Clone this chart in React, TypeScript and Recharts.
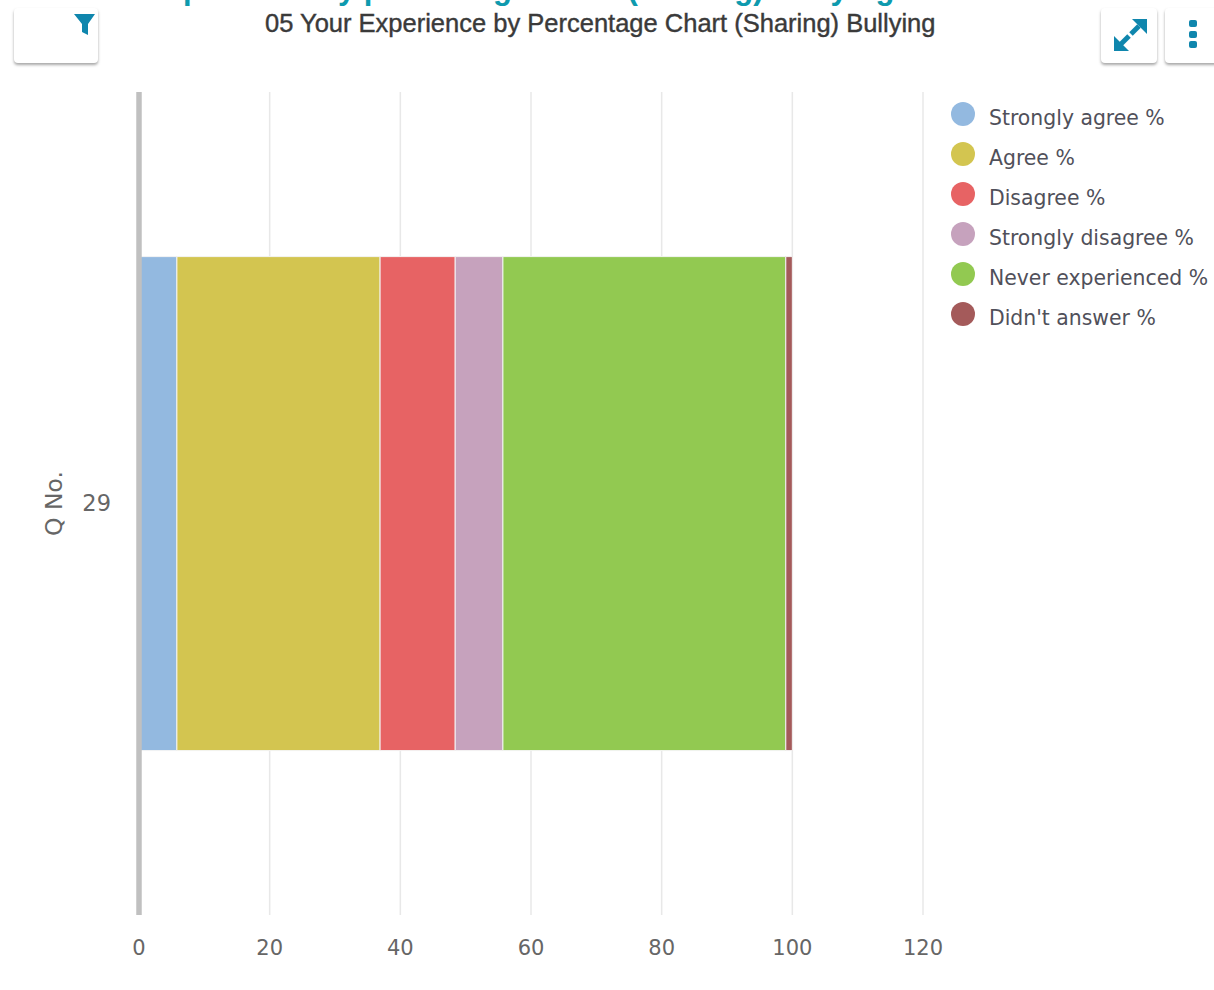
import { BarChart, Bar, XAxis, YAxis, CartesianGrid, Legend } from 'recharts'

const categories = ['29']
const seriesNames = ['Strongly agree %', 'Agree %', 'Disagree %', 'Strongly disagree %', 'Never experienced %', "Didn't answer %"]
const seriesValues = [5.8, 31.1, 11.5, 7.3, 43.3, 1.0]
const seriesColors = ['#93b9e0', '#d3c550', '#e76364', '#c6a2bd', '#92c951', '#a45a5a']
const xTicks = [0, 20, 40, 60, 80, 100, 120]

const data = categories.map((c) => {
  const row: Record<string, string | number> = { name: c }
  seriesNames.forEach((s, i) => {
    row[s] = seriesValues[i]
  })
  return row
})

const font = '"DejaVu Sans", sans-serif'

function LegendList({ payload }: any) {
  return (
    <div>
      {(payload || []).map((p: any) => (
        <div key={p.value} style={{ height: 40, display: 'flex', alignItems: 'center' }}>
          <span style={{ width: 24, height: 24, borderRadius: 12, background: p.color, marginTop: -8 }} />
          <span style={{ marginLeft: 14, fontSize: 20.4, color: '#50505a', fontFamily: font, whiteSpace: 'nowrap' }}>{p.value}</span>
        </div>
      ))}
    </div>
  )
}

function ToolButton({ left, width, children }: any) {
  return (
    <div
      style={{
        position: 'absolute',
        left,
        top: 8,
        width,
        height: 55,
        background: '#fff',
        borderRadius: 4,
        boxShadow: '0 2px 3px rgba(0,0,0,0.35)',
      }}
    >
      {children}
    </div>
  )
}

export default function App() {
  return (
    <div style={{ position: 'absolute', left: 0, top: 0, width: 1214, height: 990, overflow: 'hidden', background: '#fff' }}>
      <div
        style={{
          position: 'absolute',
          left: 145,
          top: -29,
          fontFamily: '"Liberation Sans", sans-serif',
          fontSize: 31,
          fontWeight: 700,
          color: '#0e9aae',
          whiteSpace: 'nowrap',
        }}
      >
        Experience by percentage Chart (Sharing) Bullying
      </div>
      <div
        style={{
          position: 'absolute',
          left: 265,
          top: 9,
          fontFamily: '"Liberation Sans", sans-serif',
          fontSize: 25.5,
          color: '#3a3a3a',
          whiteSpace: 'nowrap',
          WebkitTextStroke: '0.4px #3a3a3a',
        }}
      >
        05 Your Experience by Percentage Chart (Sharing) Bullying
      </div>
      <ToolButton left={14} width={84}>
        <svg width={84} height={30} style={{ position: 'absolute', left: 0, top: 4 }}>
          <polygon points="60,2 81,2 74,12 74,23 68,20 68,12" fill="#0f86ad" />
        </svg>
      </ToolButton>
      <ToolButton left={1101} width={56}>
        <svg width={56} height={55}>
          <g stroke="#0f86ad" strokeWidth={5} fill="#0f86ad">
            <line x1={20} y1={36} x2={28} y2={28} />
            <line x1={30} y1={26} x2={38} y2={18} />
            <polygon points="46,11 46,26 31,11" stroke="none" />
            <polygon points="13,43 13,28 28,43" stroke="none" />
          </g>
        </svg>
      </ToolButton>
      <ToolButton left={1165} width={60}>
        <svg width={56} height={55}>
          <g fill="#0f86ad">
            <rect x={24} y={12} width={8} height={7} rx={2} />
            <rect x={24} y={23} width={8} height={7} rx={2} />
            <rect x={24} y={33} width={8} height={7} rx={2} />
          </g>
        </svg>
      </ToolButton>
      <BarChart
        layout="vertical"
        width={1214}
        height={990}
        data={data}
        margin={{ top: 92, right: 28, left: 79, bottom: 0 }}
        barCategoryGap="20%"
        style={{ position: 'absolute', left: 0, top: 0 }}
      >
        <CartesianGrid horizontal={false} stroke="#e8e8e8" strokeWidth={1.5} />
        <XAxis
          type="number"
          domain={[0, 120]}
          ticks={xTicks}
          height={75}
          axisLine={false}
          tickLine={false}
          tick={{ fontSize: 21, fill: '#666', fontFamily: font }}
          tickMargin={19}
        />
        <YAxis
          type="category"
          dataKey="name"
          width={60}
          axisLine={{ stroke: '#c0c0c0', strokeWidth: 5.5 }}
          tickLine={false}
          tick={{ fontSize: 22.5, fill: '#666', fontFamily: font }}
          tickMargin={22}
          label={{ value: 'Q No.', angle: -90, position: 'insideLeft', offset: -25, fontSize: 23.5, fill: '#666', fontFamily: font, textAnchor: 'middle' }}
        />
        <Legend
          layout="vertical"
          align="right"
          verticalAlign="top"
          itemSorter={null}
          content={LegendList as any}
          wrapperStyle={{ left: 951, top: 98, width: 263 }}
        />
        {seriesNames.map((s, i) => (
          <Bar key={s} dataKey={s} stackId="a" fill={seriesColors[i]} stroke="#f4f4f4" strokeWidth={1} isAnimationActive={false} />
        ))}
      </BarChart>
    </div>
  )
}
